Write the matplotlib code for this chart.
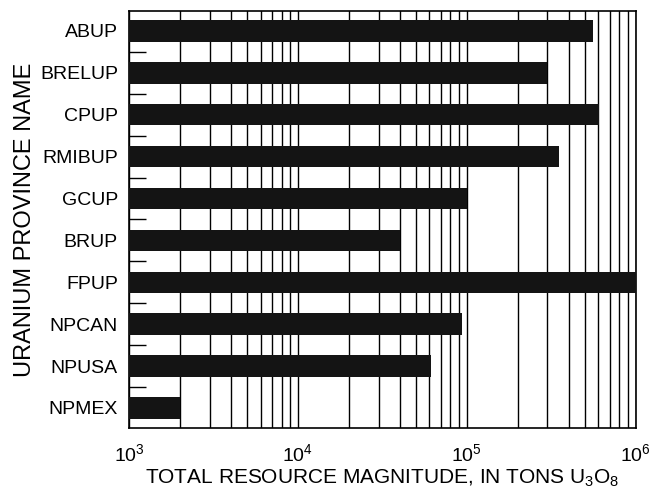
import numpy as np
import matplotlib
import matplotlib.pyplot as plt
from matplotlib.ticker import LogLocator, FixedLocator

plt.rcParams['font.family'] = ['Liberation Sans', 'DejaVu Sans']
plt.rcParams['mathtext.fontset'] = 'custom'
plt.rcParams['mathtext.rm'] = 'Liberation Sans'
plt.rcParams['mathtext.it'] = 'Liberation Sans'
plt.rcParams['mathtext.bf'] = 'Liberation Sans'

# uranium provinces, top to bottom
provinces = ['ABUP', 'BRELUP', 'CPUP', 'RMIBUP', 'GCUP',
             'BRUP', 'FPUP', 'NPCAN', 'NPUSA', 'NPMEX']
# total resource magnitude, tons U3O8
magnitude = [5.6e5, 3.0e5, 6.1e5, 3.5e5, 1.0e5,
             4.0e4, 1.0e6, 9.3e4, 6.1e4, 2.0e3]

fig = plt.figure(figsize=(6.52, 4.92), dpi=100)
ax = fig.add_axes([0.198, 0.130, 0.777, 0.848])

base = 1e3
y = np.arange(len(provinces))
ax.barh(y, np.array(magnitude) - base, left=base, height=0.51, color='#141414', zorder=3)

ax.set_xscale('log')
ax.set_xlim(1e3, 1e6)
ax.set_ylim(len(provinces) - 0.52, -0.48)

# vertical grid at every decade subdivision
ax.xaxis.set_major_locator(LogLocator(base=10, numticks=10))
ax.xaxis.set_minor_locator(LogLocator(base=10, subs=np.arange(2, 10), numticks=20))
ax.grid(True, which='both', axis='x', color='black', linewidth=1.0, zorder=1)

ax.set_yticks(y)
ax.set_yticklabels(provinces, fontsize=14)
ax.yaxis.set_minor_locator(FixedLocator(y[:-1] + 0.5))
ax.tick_params(axis='y', which='major', length=0, pad=8)
ax.tick_params(axis='y', which='minor', direction='in', length=12, width=1.0)
ax.tick_params(axis='x', which='both', length=0, labelsize=14, pad=11)

for s in ax.spines.values():
    s.set_linewidth(1.2)

ax.set_xlabel('TOTAL RESOURCE MAGNITUDE, IN TONS U$_3$O$_8$', fontsize=15, labelpad=2)
ax.set_ylabel('URANIUM PROVINCE NAME', fontsize=17, labelpad=3)

plt.savefig('out.png', dpi=100)
